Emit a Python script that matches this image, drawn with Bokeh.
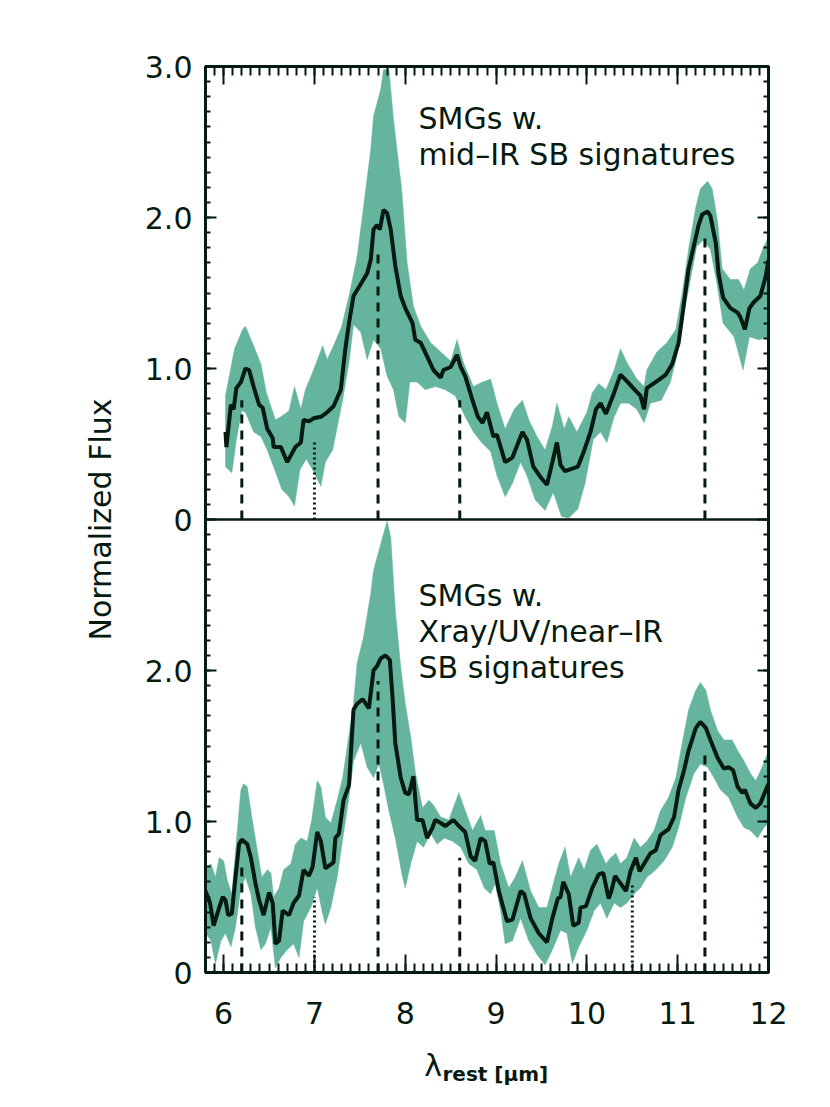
import numpy as np
from bokeh.plotting import figure
from bokeh.layouts import column
from bokeh.models import FixedTicker, LinearAxis, Span, Label, Range1d, CustomLabelingPolicy
from bokeh.embed import file_html
from bokeh.resources import INLINE

# ---------------- data ----------------
# upper panel: SMGs w. mid-IR SB signatures
top_x = [6.02, 6.03, 6.08, 6.11, 6.14, 6.19, 6.24, 6.28, 6.33, 6.39, 6.43, 6.48, 6.54, 6.55, 6.63, 6.70, 6.79, 6.85, 6.88, 6.94,
         6.99, 7.07, 7.14, 7.21, 7.29, 7.34, 7.38, 7.43, 7.51, 7.58, 7.62, 7.65, 7.69, 7.72, 7.76, 7.80, 7.84, 7.89, 7.95, 8.00,
         8.08, 8.11, 8.17, 8.24, 8.31, 8.39, 8.42, 8.50, 8.57, 8.61, 8.66, 8.74, 8.80, 8.85, 8.90, 8.97, 9.01, 9.10, 9.18, 9.29,
         9.34, 9.41, 9.49, 9.56, 9.62, 9.67, 9.71, 9.76, 9.90, 9.96, 10.04, 10.10, 10.15, 10.21, 10.30, 10.37, 10.45, 10.54, 10.59, 10.63,
         10.66, 10.78, 10.87, 10.94, 11.01, 11.06, 11.12, 11.20, 11.23, 11.27, 11.33, 11.36, 11.42, 11.45, 11.50, 11.58, 11.66, 11.69, 11.74, 11.79,
         11.84, 11.91, 11.97, 12.0]
top_mean = [0.58, 0.48, 0.76, 0.73, 0.87, 0.91, 1.00, 0.99, 0.88, 0.76, 0.74, 0.60, 0.54, 0.48, 0.48, 0.38, 0.48, 0.51, 0.66, 0.65,
            0.67, 0.68, 0.71, 0.75, 0.86, 1.13, 1.30, 1.48, 1.56, 1.63, 1.72, 1.92, 1.95, 1.92, 2.05, 2.03, 1.92, 1.68, 1.48, 1.40,
            1.30, 1.19, 1.17, 1.08, 0.99, 0.94, 0.99, 1.01, 1.09, 1.01, 0.95, 0.79, 0.68, 0.64, 0.71, 0.55, 0.56, 0.38, 0.41, 0.58,
            0.53, 0.35, 0.28, 0.23, 0.38, 0.51, 0.36, 0.32, 0.35, 0.44, 0.58, 0.73, 0.77, 0.70, 0.84, 0.96, 0.91, 0.85, 0.82, 0.73,
            0.87, 0.92, 0.96, 1.03, 1.17, 1.39, 1.66, 1.87, 1.95, 2.02, 2.04, 2.01, 1.83, 1.63, 1.47, 1.40, 1.37, 1.34, 1.26, 1.40,
            1.44, 1.48, 1.61, 1.72]
top_hi_x = [6.02, 6.12, 6.21, 6.24, 6.33, 6.41, 6.47, 6.52, 6.57, 6.63, 6.72, 6.78, 6.85, 6.90, 6.99, 7.09, 7.14, 7.21, 7.30, 7.38,
            7.47, 7.54, 7.62, 7.65, 7.73, 7.76, 7.82, 7.87, 7.93, 7.96, 8.02, 8.09, 8.17, 8.28, 8.39, 8.50, 8.57, 8.64, 8.75, 8.85,
            8.94, 9.01, 9.10, 9.20, 9.29, 9.36, 9.45, 9.54, 9.62, 9.67, 9.75, 9.80, 9.89, 10.00, 10.06, 10.13, 10.21, 10.30, 10.37, 10.44,
            10.55, 10.63, 10.66, 10.77, 10.88, 10.98, 11.05, 11.12, 11.20, 11.25, 11.33, 11.38, 11.44, 11.49, 11.58, 11.67, 11.73, 11.80, 11.88, 11.95,
            12.0]
top_hi = [0.82, 1.13, 1.26, 1.28, 1.15, 1.03, 0.84, 0.75, 0.66, 0.68, 0.72, 0.88, 0.73, 0.86, 0.99, 1.15, 1.06, 1.15, 1.28, 1.48,
          1.74, 2.07, 2.45, 2.67, 2.85, 2.98, 2.98, 2.65, 2.34, 2.19, 1.70, 1.41, 1.28, 1.17, 1.11, 1.05, 1.19, 1.04, 0.88, 0.91,
          0.93, 0.77, 0.60, 0.73, 0.79, 0.66, 0.55, 0.46, 0.62, 0.77, 0.60, 0.68, 0.58, 0.71, 0.84, 0.90, 0.86, 0.99, 1.13, 1.04,
          0.93, 0.88, 0.99, 1.11, 1.17, 1.26, 1.50, 1.79, 2.07, 2.19, 2.24, 2.19, 1.97, 1.66, 1.59, 1.59, 1.52, 1.66, 1.70, 1.81,
          1.87]
top_lo_x = [6.02, 6.09, 6.14, 6.20, 6.24, 6.33, 6.41, 6.48, 6.55, 6.64, 6.72, 6.78, 6.84, 6.91, 6.98, 7.07, 7.12, 7.20, 7.31, 7.38,
            7.43, 7.51, 7.58, 7.65, 7.73, 7.80, 7.87, 7.93, 8.00, 8.05, 8.13, 8.22, 8.33, 8.44, 8.55, 8.66, 8.75, 8.84, 8.94, 9.01,
            9.10, 9.18, 9.27, 9.34, 9.43, 9.54, 9.63, 9.72, 9.80, 9.90, 9.98, 10.07, 10.15, 10.22, 10.30, 10.37, 10.46, 10.55, 10.63, 10.70,
            10.82, 10.92, 10.99, 11.06, 11.14, 11.21, 11.28, 11.36, 11.43, 11.50, 11.62, 11.72, 11.79, 11.90, 12.0]
top_lo = [0.35, 0.31, 0.53, 0.72, 0.71, 0.58, 0.55, 0.46, 0.35, 0.20, 0.15, 0.09, 0.33, 0.40, 0.33, 0.22, 0.38, 0.46, 0.79, 1.04,
          1.29, 1.24, 1.06, 1.19, 1.13, 0.95, 0.86, 0.68, 0.64, 0.91, 0.91, 0.86, 0.88, 0.86, 0.82, 0.68, 0.58, 0.51, 0.45, 0.29,
          0.15, 0.24, 0.38, 0.29, 0.13, 0.06, 0.18, 0.02, 0.01, 0.07, 0.24, 0.53, 0.58, 0.51, 0.68, 0.77, 0.77, 0.73, 0.64, 0.77,
          0.79, 0.91, 1.08, 1.34, 1.59, 1.81, 1.85, 1.79, 1.57, 1.30, 1.21, 0.99, 1.21, 1.19, 1.21]
top_dash_x = [6.2, 7.7, 8.6, 11.3]
top_dash_top = [0.79, 1.79, 0.79, 1.87]
top_dot_x = [7.0]
top_dot_top = [0.52]

# lower panel: SMGs w. Xray/UV/near-IR SB signatures
bot_x = [5.80, 5.85, 5.89, 5.94, 5.99, 6.02, 6.05, 6.09, 6.13, 6.17, 6.20, 6.26, 6.30, 6.35, 6.39, 6.44, 6.50, 6.54, 6.57, 6.61,
         6.65, 6.72, 6.77, 6.83, 6.88, 6.94, 6.98, 7.03, 7.07, 7.12, 7.21, 7.23, 7.27, 7.32, 7.38, 7.43, 7.47, 7.53, 7.60, 7.65,
         7.69, 7.73, 7.78, 7.83, 7.86, 7.89, 7.95, 8.00, 8.04, 8.09, 8.13, 8.19, 8.24, 8.30, 8.33, 8.39, 8.44, 8.53, 8.59, 8.66,
         8.72, 8.77, 8.83, 8.88, 8.93, 8.97, 9.03, 9.12, 9.18, 9.27, 9.31, 9.38, 9.47, 9.56, 9.62, 9.68, 9.71, 9.74, 9.80, 9.85,
         9.91, 9.93, 9.99, 10.06, 10.13, 10.18, 10.24, 10.27, 10.31, 10.37, 10.43, 10.48, 10.54, 10.58, 10.65, 10.70, 10.76, 10.81, 10.90, 10.96,
         11.01, 11.07, 11.12, 11.20, 11.25, 11.31, 11.36, 11.44, 11.51, 11.56, 11.61, 11.66, 11.71, 11.74, 11.80, 11.86, 11.91, 12.0]
bot_mean = [0.54, 0.46, 0.31, 0.41, 0.50, 0.48, 0.38, 0.39, 0.63, 0.85, 0.88, 0.85, 0.76, 0.59, 0.48, 0.38, 0.53, 0.46, 0.19, 0.21,
            0.41, 0.38, 0.46, 0.51, 0.68, 0.64, 0.70, 0.93, 0.87, 0.69, 0.73, 0.89, 0.92, 1.14, 1.24, 1.74, 1.78, 1.81, 1.75, 2.00,
            2.03, 2.08, 2.10, 2.07, 1.82, 1.52, 1.29, 1.19, 1.18, 1.30, 1.01, 1.01, 0.89, 0.96, 1.01, 0.99, 0.97, 1.01, 0.97, 0.93,
            0.77, 0.74, 0.89, 0.87, 0.72, 0.73, 0.54, 0.34, 0.35, 0.54, 0.52, 0.36, 0.26, 0.20, 0.36, 0.49, 0.50, 0.60, 0.52, 0.31,
            0.33, 0.43, 0.44, 0.56, 0.65, 0.66, 0.49, 0.54, 0.64, 0.59, 0.54, 0.67, 0.76, 0.67, 0.74, 0.79, 0.81, 0.91, 0.95, 1.03,
            1.21, 1.34, 1.47, 1.62, 1.66, 1.62, 1.54, 1.42, 1.35, 1.36, 1.34, 1.23, 1.19, 1.21, 1.12, 1.09, 1.12, 1.25]
bot_hi_x = [5.78, 5.86, 5.91, 5.95, 6.00, 6.04, 6.09, 6.15, 6.19, 6.22, 6.26, 6.31, 6.37, 6.42, 6.48, 6.52, 6.55, 6.61, 6.66, 6.74,
            6.79, 6.85, 6.92, 6.97, 7.03, 7.07, 7.12, 7.18, 7.25, 7.31, 7.36, 7.43, 7.47, 7.54, 7.62, 7.65, 7.73, 7.80, 7.84, 7.89,
            7.95, 8.00, 8.06, 8.11, 8.19, 8.26, 8.31, 8.39, 8.48, 8.59, 8.65, 8.74, 8.83, 8.88, 8.98, 9.05, 9.14, 9.21, 9.29, 9.38,
            9.47, 9.56, 9.64, 9.69, 9.76, 9.82, 9.91, 9.97, 10.04, 10.11, 10.21, 10.26, 10.32, 10.37, 10.44, 10.52, 10.59, 10.66, 10.74, 10.81,
            10.90, 10.98, 11.05, 11.12, 11.20, 11.25, 11.31, 11.36, 11.44, 11.51, 11.60, 11.66, 11.73, 11.80, 11.86, 11.93, 12.0]
bot_hi = [0.68, 0.72, 0.63, 0.76, 0.74, 0.61, 0.52, 0.94, 1.21, 1.25, 1.23, 1.03, 0.81, 0.63, 0.68, 0.66, 0.50, 0.56, 0.68, 0.72,
          0.85, 0.89, 0.87, 1.01, 1.27, 1.23, 1.03, 0.99, 1.14, 1.29, 1.49, 1.78, 2.05, 2.22, 2.51, 2.66, 2.84, 2.99, 2.88, 2.40,
          2.02, 1.78, 1.56, 1.33, 1.09, 1.14, 1.11, 1.03, 1.01, 1.19, 1.09, 0.94, 1.04, 0.94, 0.94, 0.72, 0.56, 0.63, 0.74, 0.54,
          0.43, 0.43, 0.61, 0.72, 0.83, 0.63, 0.76, 0.68, 0.81, 0.85, 0.72, 0.76, 0.79, 0.72, 0.76, 0.89, 0.83, 0.87, 0.94, 1.07,
          1.16, 1.29, 1.52, 1.74, 1.87, 1.92, 1.87, 1.74, 1.60, 1.54, 1.54, 1.47, 1.40, 1.32, 1.27, 1.36, 1.47]
bot_lo_x = [5.78, 5.86, 5.91, 5.97, 6.02, 6.08, 6.13, 6.19, 6.24, 6.30, 6.35, 6.41, 6.46, 6.52, 6.57, 6.63, 6.70, 6.77, 6.83, 6.88,
            6.96, 7.03, 7.09, 7.12, 7.18, 7.25, 7.32, 7.38, 7.43, 7.51, 7.58, 7.65, 7.71, 7.76, 7.82, 7.89, 7.97, 8.00, 8.06, 8.13,
            8.20, 8.28, 8.35, 8.43, 8.52, 8.61, 8.70, 8.79, 8.87, 8.94, 8.99, 9.05, 9.10, 9.18, 9.27, 9.36, 9.45, 9.54, 9.62, 9.71,
            9.78, 9.84, 9.91, 10.00, 10.08, 10.15, 10.22, 10.30, 10.37, 10.44, 10.52, 10.59, 10.66, 10.76, 10.85, 10.94, 11.01, 11.09, 11.18, 11.25,
            11.33, 11.40, 11.47, 11.56, 11.66, 11.73, 11.80, 11.88, 11.95, 12.0]
bot_lo = [0.28, 0.21, 0.06, 0.21, 0.26, 0.17, 0.30, 0.56, 0.63, 0.52, 0.30, 0.15, 0.19, 0.30, 0.03, 0.10, 0.15, 0.19, 0.10, 0.34,
          0.43, 0.56, 0.39, 0.32, 0.43, 0.63, 0.92, 1.16, 1.40, 1.52, 1.36, 1.29, 1.38, 1.25, 1.07, 0.89, 0.63, 0.56, 0.72, 0.87,
          0.83, 0.92, 0.85, 0.89, 0.87, 0.83, 0.72, 0.68, 0.56, 0.52, 0.59, 0.41, 0.19, 0.21, 0.36, 0.21, 0.12, 0.05, 0.15, 0.28,
          0.26, 0.06, 0.17, 0.28, 0.41, 0.46, 0.36, 0.46, 0.43, 0.46, 0.52, 0.56, 0.63, 0.68, 0.74, 0.83, 0.96, 1.16, 1.32, 1.38,
          1.36, 1.29, 1.21, 1.16, 1.03, 0.96, 0.94, 0.89, 0.96, 0.99]
bot_dash_x = [6.2, 7.7, 8.6, 11.3]
bot_dash_top = [0.74, 1.93, 0.76, 1.48]
bot_dot_x = [7.0, 10.5]
bot_dot_top = [0.50, 0.59]

x_ticks = [6, 7, 8, 9, 10, 11, 12]
y_ticks = [0, 1, 2, 3, 4, 5, 6]
y_tick_labels = ["0", "1.0", "2.0", "0", "1.0", "2.0", "3.0"]
top_text = ["SMGs w.", "mid\u2013IR SB signatures"]
bot_text = ["SMGs w.", "Xray/UV/near\u2013IR", "SB signatures"]
x_title = ["\u03bb", "rest [\u03bcm]"]

for a, b in [(top_x, top_mean), (top_hi_x, top_hi), (top_lo_x, top_lo), (bot_x, bot_mean),
             (bot_hi_x, bot_hi), (bot_lo_x, bot_lo)]:
    assert len(a) == len(b), (len(a), len(b))

# ---------------- style ----------------
OFFSET = 3.0          # upper panel sits on top of the lower one
INK = "#061a10"
BAND = "#64b49e"
FONT = "DejaVu Sans"
W = 828
H_MAIN = 1038
H_TITLE = 66

p = figure(width=W, height=H_MAIN, x_range=Range1d(5.8, 12.0), y_range=Range1d(0, 6),
           output_backend="svg", toolbar_location=None,
           min_border_left=205, min_border_right=W - 768, min_border_top=66, min_border_bottom=H_MAIN - 972)
p.xgrid.visible = False
p.ygrid.visible = False
p.outline_line_color = INK
p.outline_line_width = 3
p.background_fill_color = "white"
p.border_fill_color = "white"

x_minor = [round(5.8 + 0.1 * i, 2) for i in range(63)]
y_minor = [round(0.1 * i, 2) for i in range(61)]

no_labels = CustomLabelingPolicy(code="""
try { for (const i of Array.from(indices)) { indices.unset(i) } } catch (e) {}
return indices
""")


def style_axis(ax, ticks, minor, tick_len, labels):
    ax.ticker = FixedTicker(ticks=ticks, minor_ticks=minor)
    ax.axis_line_width = 3
    ax.axis_line_color = INK
    ax.major_tick_in = tick_len
    ax.major_tick_out = 0
    ax.minor_tick_in = tick_len // 2
    ax.minor_tick_out = 0
    ax.major_tick_line_width = 2
    ax.minor_tick_line_width = 2
    ax.major_tick_line_color = INK
    ax.minor_tick_line_color = INK
    ax.major_label_text_font = FONT
    ax.major_label_text_color = INK
    if labels:
        ax.major_label_text_font_size = "30px"
    else:
        ax.major_label_text_font_size = "0px"
        ax.major_label_standoff = 0
        ax.major_label_policy = no_labels


style_axis(p.xaxis[0], x_ticks, x_minor, 18, True)
p.xaxis[0].major_label_standoff = 29
style_axis(p.yaxis[0], y_ticks, y_minor, 11, True)
p.yaxis[0].major_label_standoff = 13
p.yaxis[0].major_label_overrides = {t: s for t, s in zip(y_ticks, y_tick_labels)}
p.yaxis[0].axis_label = "Normalized Flux"
p.yaxis[0].axis_label_text_font = FONT
p.yaxis[0].axis_label_text_font_size = "30px"
p.yaxis[0].axis_label_text_font_style = "normal"
p.yaxis[0].axis_label_text_color = INK
p.yaxis[0].axis_label_standoff = 24

top_axis = LinearAxis()
style_axis(top_axis, x_ticks, x_minor, 18, False)
p.add_layout(top_axis, "above")
right_axis = LinearAxis()
style_axis(right_axis, y_ticks, y_minor, 11, False)
p.add_layout(right_axis, "right")

# ---------------- bands ----------------
p.patch(x=bot_hi_x + bot_lo_x[::-1], y=bot_hi + bot_lo[::-1],
        fill_color=BAND, line_color=BAND, line_width=0.5)
p.patch(x=top_hi_x + top_lo_x[::-1],
        y=[v + OFFSET for v in top_hi] + [v + OFFSET for v in top_lo[::-1]],
        fill_color=BAND, line_color=BAND, line_width=0.5)

# ---------------- feature markers ----------------
p.segment(x0=top_dash_x, y0=[OFFSET] * len(top_dash_x), x1=top_dash_x,
          y1=[v + OFFSET for v in top_dash_top], line_color=INK, line_width=3, line_dash="9 7")
p.segment(x0=top_dot_x, y0=[OFFSET] * len(top_dot_x), x1=top_dot_x,
          y1=[v + OFFSET for v in top_dot_top], line_color=INK, line_width=3, line_dash="2 3")
p.segment(x0=bot_dash_x, y0=[0] * len(bot_dash_x), x1=bot_dash_x, y1=bot_dash_top,
          line_color=INK, line_width=3, line_dash="9 7")
p.segment(x0=bot_dot_x, y0=[0] * len(bot_dot_x), x1=bot_dot_x, y1=bot_dot_top,
          line_color=INK, line_width=3, line_dash="2 3")

# ---------------- mean spectra ----------------
p.line(x=top_x, y=[v + OFFSET for v in top_mean], line_color=INK, line_width=4)
p.line(x=bot_x, y=bot_mean, line_color=INK, line_width=4)

# panel separator
p.add_layout(Span(location=OFFSET, dimension="width", line_color=INK, line_width=2.5))

# ---------------- annotations ----------------
for i, t in enumerate(top_text):
    p.add_layout(Label(x=8.146, y=OFFSET + 2.656 - 0.239 * i, text=t, text_font=FONT,
                       text_font_size="30px", text_color=INK, text_baseline="alphabetic"))
for i, t in enumerate(bot_text):
    p.add_layout(Label(x=8.146, y=2.497 - 0.239 * i, text=t, text_font=FONT,
                       text_font_size="30px", text_color=INK, text_baseline="alphabetic"))

# ---------------- x-axis title strip (lambda with subscript) ----------------
# shares the wavelength axis of the main plot; its frame is aligned with the main frame
q = figure(width=W, height=H_TITLE, x_range=p.x_range, y_range=Range1d(H_TITLE, 0),
           output_backend="svg", toolbar_location=None, x_axis_location=None, y_axis_location=None,
           min_border_left=205, min_border_right=W - 768, min_border_top=0, min_border_bottom=0)
q.outline_line_color = None
q.xgrid.visible = False
q.ygrid.visible = False
q.background_fill_color = "white"
q.border_fill_color = "white"
q.add_layout(Label(x=8.21, y=27, text=x_title[0], text_font=FONT, text_font_size="30px",
                   text_color=INK, text_baseline="alphabetic"))
q.add_layout(Label(x=8.41, y=35, text=x_title[1], text_font=FONT, text_font_size="20px",
                   text_font_style="bold", text_color=INK, text_baseline="alphabetic"))

open("out.html", "w").write(file_html(column(p, q, spacing=0), INLINE))
